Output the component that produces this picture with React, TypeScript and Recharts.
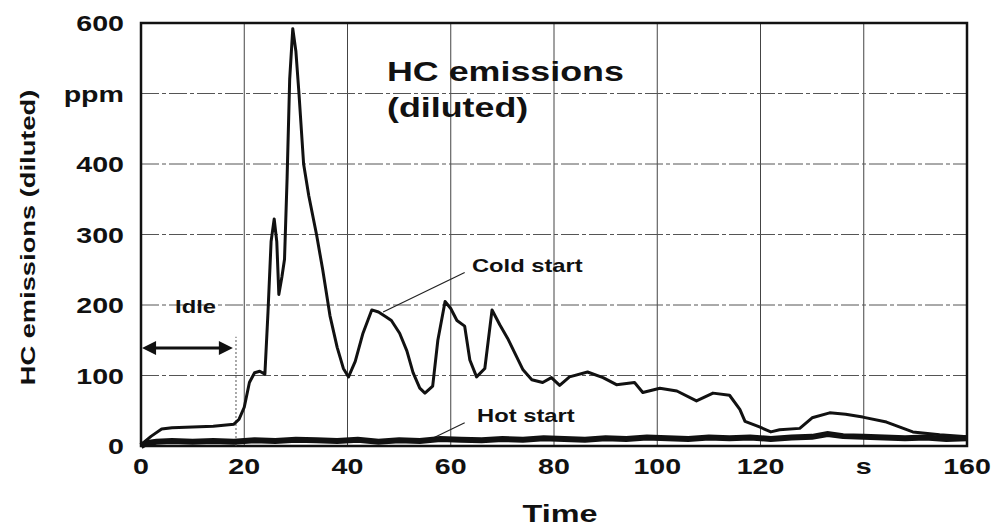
import React from "react";
import {
  LineChart,
  Line,
  XAxis,
  YAxis,
  CartesianGrid,
  ReferenceArea,
  ReferenceLine,
  ReferenceDot,
} from "recharts";

// Cold start trace (time in s, HC in ppm)
const coldTime = [
  0, 1, 2, 4, 6, 10, 14, 18, 19, 20, 21, 22, 23, 24, 24.6, 25.2, 25.8, 26.3, 26.7, 27.3,
  27.8, 28.3, 28.8, 29.4, 30, 30.6, 31.5, 32.5, 34, 35.2, 36.6, 38, 39.2, 40.2, 41.5, 43,
  44.7, 46, 47.5, 48.5, 50.1, 51.5, 52.7, 54, 55, 56.5, 57.5, 58.9, 60, 61.2, 62.7, 63.7,
  65, 66.6, 68, 69.5, 71, 74, 75.7, 77.8, 79.5, 81.1, 83, 86.5, 89.5, 92.1, 95.6, 97.2,
  100.5, 103.8, 107.6, 110.8, 114, 116, 117, 119.8, 122, 123.7, 127.6, 130, 133.4, 136.5,
  139.8, 144.4, 149.5, 154.7, 160,
];
const coldHC = [
  2, 8, 14, 24, 26, 27, 28, 31, 38, 55, 90, 104, 106, 102, 190, 290, 322, 290, 215, 240,
  265, 380, 520, 592, 560, 500, 400, 355, 300, 250, 185, 140, 110, 98, 120, 160,
  193, 190, 183, 178, 160, 135, 104, 82, 75, 85, 150, 205, 195, 178, 170, 122,
  98, 110, 193, 172, 153, 108, 94, 90, 97, 86, 98, 105, 97, 87, 90, 76,
  82, 78, 64, 75, 72, 52, 35, 27, 20, 23, 25, 40, 47, 45,
  41, 34, 20, 16, 13,
];

// Hot start trace
const hotTime = [
  0, 1, 3, 6, 10, 14, 18, 22, 26, 30, 34, 38, 42, 46, 50, 54, 58, 62, 66, 70, 74, 78, 82,
  86, 90, 94, 98, 102, 106, 110, 114, 118, 122, 126, 130, 133, 136, 140, 144, 148, 152,
  156, 160,
];
const hotHC = [
  0, 4, 6, 7, 6, 7, 6, 8, 7, 9, 8, 7, 9, 6, 8, 7, 10, 9, 8, 10, 9, 11, 10,
  9, 11, 10, 12, 11, 10, 12, 11, 12, 10, 12, 13, 17, 14, 13, 12, 11, 12,
  10, 11,
];

const timeTicks = [0, 20, 40, 60, 80, 100, 120, 140, 160];
const hcTicks = [0, 100, 200, 300, 400, 500, 600];
// unit labels sit in place of one tick on each axis
const timeTickLabel = (v: number) => (v === 140 ? "s" : String(v));
const hcTickLabel = (v: number) => (v === 500 ? "ppm" : String(v));

const coldData = coldTime.map((t, i) => ({ t, hc: coldHC[i] }));
const hotData = hotTime.map((t, i) => ({ t, hc: hotHC[i] }));

const FONT = "'Liberation Sans', Arial, Helvetica, sans-serif";
const INK = "#111";

// bold, slightly widened lettering used for all text on the chart
function Wide({ x, y, size, anchor = "start", sx = 1.3, rotate = 0, children }: any) {
  return (
    <text
      transform={`translate(${x},${y}) rotate(${rotate}) scale(${sx},1)`}
      textAnchor={anchor}
      fontSize={size}
      fontWeight="bold"
      fontFamily={FONT}
      fill={INK}
    >
      {children}
    </text>
  );
}

const XTick = ({ x, y, payload }: any) => (
  <Wide x={x} y={y + 26} size={22} anchor="middle">
    {timeTickLabel(payload.value)}
  </Wide>
);

const YTick = ({ x, y, payload }: any) => (
  <Wide x={x - 15} y={y + 8} size={22} anchor="end">
    {hcTickLabel(payload.value)}
  </Wide>
);

const IdleArrow = ({ x1, y1, x2, y2 }: any) => (
  <g>
    <line x1={x1 + 8} y1={y1} x2={x2 - 8} y2={y2} stroke={INK} strokeWidth={3} />
    <polygon points={`${x1},${y1} ${x1 + 14},${y1 - 7} ${x1 + 14},${y1 + 7}`} fill={INK} />
    <polygon points={`${x2},${y2} ${x2 - 14},${y2 - 7} ${x2 - 14},${y2 + 7}`} fill={INK} />
  </g>
);

export default function App() {
  return (
    <div style={{ position: "absolute", left: 0, top: 0, background: "#fff" }}>
      <LineChart width={992} height={529} margin={{ top: 23, right: 25, bottom: 0, left: 0 }}>
        <CartesianGrid horizontal={false} stroke="#444" strokeWidth={1} />
        <CartesianGrid vertical={false} stroke="#555" strokeWidth={1} strokeDasharray="18 3 4 3" />
        <XAxis
          type="number"
          dataKey="t"
          domain={[0, 160]}
          ticks={timeTicks}
          interval={0}
          height={83}
          tickLine={false}
          axisLine={false}
          tickSize={0}
          tick={<XTick />}
          label={{
            content: ({ viewBox }: any) => (
              <Wide x={viewBox.x + viewBox.width / 2 + 6} y={viewBox.y + 76} size={24} sx={1.35} anchor="middle">
                Time
              </Wide>
            ),
          }}
        />
        <YAxis
          type="number"
          domain={[0, 600]}
          ticks={hcTicks}
          interval={0}
          width={141}
          tickLine={false}
          axisLine={false}
          tickSize={0}
          tick={<YTick />}
          label={{
            content: ({ viewBox }: any) => (
              <Wide x={35} y={viewBox.y + viewBox.height / 2 + 3} size={21} rotate={-90} anchor="middle">
                HC emissions (diluted)
              </Wide>
            ),
          }}
        />

        {/* idle phase marker */}
        <ReferenceLine
          segment={[{ x: 18.4, y: 0 }, { x: 18.4, y: 155 }]}
          stroke="#555"
          strokeDasharray="2 2"
        />
        <ReferenceLine
          segment={[{ x: 0.2, y: 139 }, { x: 17.8, y: 139 }]}
          shape={<IdleArrow />}
        />

        {/* leader lines to the curve labels */}
        <ReferenceLine segment={[{ x: 46.9, y: 190 }, { x: 62.7, y: 246 }]} stroke="#222" strokeWidth={1.2} />
        <ReferenceLine segment={[{ x: 56.5, y: 11 }, { x: 62.7, y: 33 }]} stroke="#222" strokeWidth={1.2} />

        <Line
          data={hotData}
          dataKey="hc"
          type="linear"
          stroke={INK}
          strokeWidth={6}
          dot={false}
          isAnimationActive={false}
        />
        <Line
          data={coldData}
          dataKey="hc"
          type="linear"
          stroke={INK}
          strokeWidth={3}
          strokeLinejoin="round"
          dot={false}
          isAnimationActive={false}
        />

        {/* plot frame */}
        <ReferenceArea x1={0} x2={160} y1={0} y2={600} fill="none" fillOpacity={0} stroke={INK} strokeWidth={2.5} />

        <ReferenceDot
          x={47.65}
          y={517.5}
          r={1}
          shape={({ cx, cy }: any) => (
            <g>
              <Wide x={cx} y={cy} size={28} sx={1.28}>HC emissions</Wide>
              <Wide x={cx} y={cy + 36} size={28} sx={1.28}>(diluted)</Wide>
            </g>
          )}
        />
        <ReferenceDot
          x={64.1}
          y={246.8}
          r={1}
          shape={({ cx, cy }: any) => (
            <Wide x={cx} y={cy} size={19} sx={1.25}>Cold start</Wide>
          )}
        />
        <ReferenceDot
          x={65.1}
          y={34}
          r={1}
          shape={({ cx, cy }: any) => (
            <Wide x={cx} y={cy} size={19} sx={1.25}>Hot start</Wide>
          )}
        />
        <ReferenceDot
          x={6.6}
          y={188.6}
          r={1}
          shape={({ cx, cy }: any) => (
            <Wide x={cx} y={cy} size={19} sx={1.25}>Idle</Wide>
          )}
        />
      </LineChart>
    </div>
  );
}
